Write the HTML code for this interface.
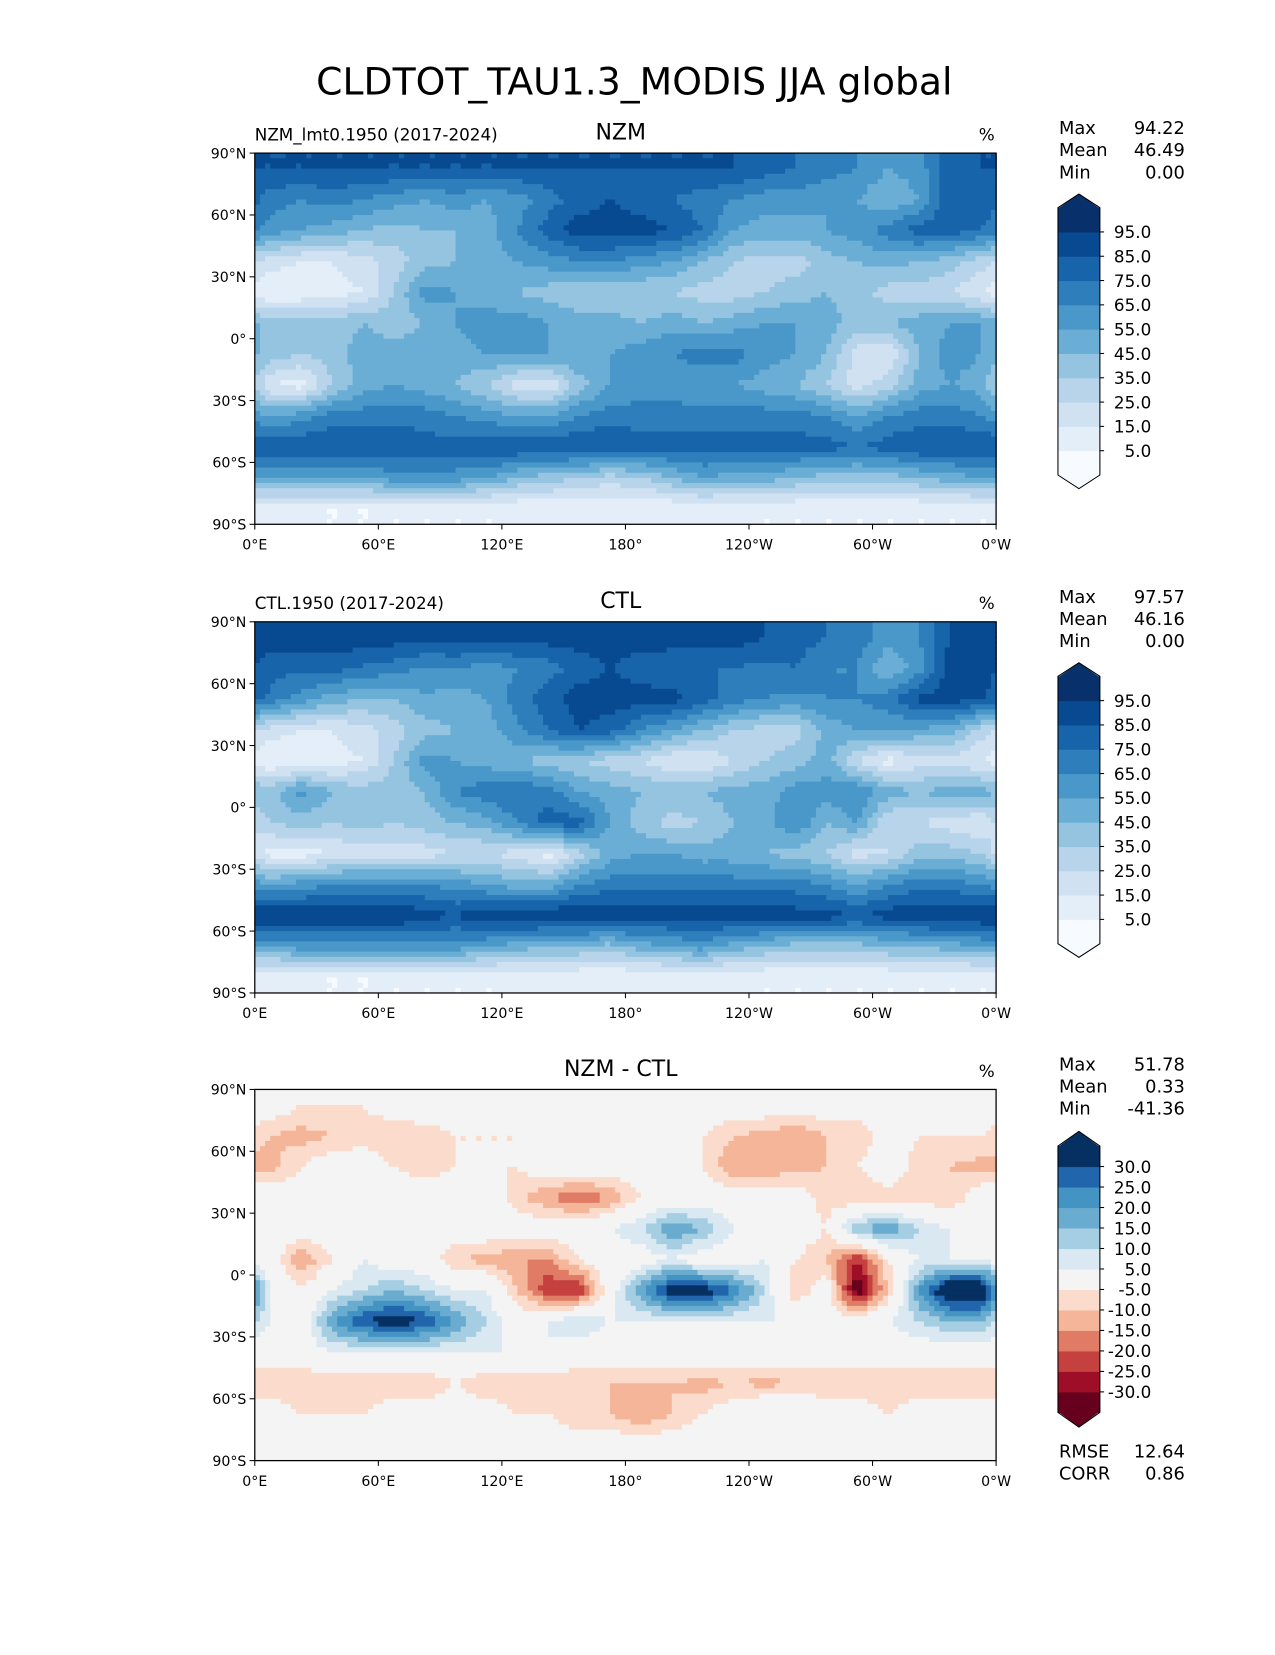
<!DOCTYPE html>
<html><head><meta charset="utf-8">
<style>
body{margin:0;background:#fff;}
svg text{font-family:"DejaVu Sans","Liberation Sans",sans-serif;}
</style></head>
<body>
<svg id="fig" width="1275" height="1650" viewBox="0 0 1216 1573.6" xmlns="http://www.w3.org/2000/svg">
<rect width="1216" height="1574" fill="#fff"/>
<text x="605" y="90" font-size="36" text-anchor="middle">CLDTOT_TAU1.3_MODIS JJA global</text>
</svg>
<script>
// ---- data (rows 90N->90S in 15° bands, columns 0E->360 in 15° bands) ----
const nzmValues = [
[85,85,85,85,85,85,85,85,85,85,85,85,85,85,85,85,80,75,70,65,55,60,80,85],
[70,65,70,65,60,55,60,55,60,70,80,85,80,75,70,65,60,60,55,55,45,55,85,85],
[60,55,50,45,40,45,45,50,65,80,90,90,90,85,75,55,50,50,55,60,70,80,80,75],
[20,15,15,20,30,40,45,50,55,60,65,65,60,55,45,35,30,30,40,45,50,45,40,30],
[5,5,10,15,35,60,55,50,45,40,35,35,35,35,30,30,35,40,45,40,30,30,25,15],
[40,45,40,45,40,45,55,60,60,55,50,50,45,50,45,50,55,55,50,40,45,50,55,55],
[40,35,40,50,50,50,50,55,55,55,55,55,60,65,70,70,60,55,45,20,15,45,60,55],
[15,10,35,50,55,50,45,35,20,15,40,55,60,60,55,55,50,45,35,20,30,50,55,50],
[55,60,70,70,70,70,65,60,55,55,65,70,70,70,70,70,70,70,65,55,65,70,70,65],
[85,85,85,85,85,80,80,85,85,85,85,85,80,80,80,80,80,80,80,75,80,85,85,85],
[55,55,55,55,60,60,60,55,45,40,35,30,35,45,55,50,50,45,40,40,40,45,50,55],
[5,5,5,5,5,5,5,5,5,5,5,5,5,5,5,5,5,5,5,5,5,5,5,5]];
const ctlValues = [
[90,92,92,92,90,90,90,90,90,90,90,90,90,92,90,90,85,80,75,70,60,65,85,90],
[80,77,80,73,70,63,65,60,65,70,80,85,80,75,75,75,72,75,65,65,45,60,90,90],
[72,60,50,45,45,53,50,55,70,80,90,90,90,90,80,70,65,62,65,65,70,88,90,87],
[20,15,15,20,30,40,45,50,63,75,85,80,65,55,45,35,30,30,48,55,58,53,50,30],
[5,5,10,15,35,60,55,50,45,40,35,30,25,15,15,25,35,40,50,25,10,20,20,15],
[40,60,45,40,40,45,65,72,75,70,55,50,45,45,45,50,50,60,60,65,50,45,50,50],
[35,40,35,40,35,40,45,50,65,80,80,55,40,30,35,45,50,65,45,55,25,25,20,15],
[10,10,15,20,20,20,25,25,20,10,30,50,55,55,50,50,45,40,35,20,25,40,40,35],
[55,60,65,65,65,65,60,55,50,50,65,70,70,70,70,70,70,70,65,55,65,70,70,65],
[95,95,95,95,95,90,85,95,95,95,95,95,90,90,92,90,92,90,90,85,90,95,95,95],
[55,60,60,60,60,60,60,55,50,45,45,40,50,55,60,50,45,40,40,40,45,45,50,55],
[5,5,5,5,5,5,5,5,5,5,5,5,5,5,5,5,5,5,5,5,5,5,5,5]];
const diffValues = [
[0,-5,-5,-5,0,0,0,0,0,0,0,0,0,-5,0,0,0,0,0,0,0,0,0,0],
[-10,-12,-10,-8,-10,-8,-5,-5,-5,0,0,0,0,0,-5,-10,-12,-15,-10,-10,0,-5,-5,-5],
[-12,-5,0,0,-5,-8,-5,-5,-5,0,0,0,0,-5,-5,-15,-15,-12,-10,-5,0,-8,-10,-12],
[0,0,0,0,0,0,0,0,-8,-15,-20,-15,-5,0,0,0,0,0,-8,-10,-8,-8,-10,0],
[0,0,0,0,0,0,0,0,0,0,0,5,10,20,15,5,0,0,-5,15,20,10,5,0],
[0,-15,-5,5,0,0,-10,-12,-15,-15,-5,0,0,5,0,0,5,-5,-10,-25,-5,5,5,5],
[5,-5,5,10,15,10,5,5,-10,-25,-25,0,20,35,35,25,10,-10,0,-35,-10,20,40,40],
[5,0,20,30,35,30,20,10,0,5,10,5,5,5,5,5,5,5,0,0,5,10,15,15],
[0,0,5,5,5,5,5,5,5,5,0,0,0,0,0,0,0,0,0,0,0,0,0,0],
[-10,-10,-10,-10,-10,-10,-5,-10,-10,-10,-10,-10,-10,-10,-12,-10,-12,-10,-10,-10,-10,-10,-10,-10],
[0,-5,-5,-5,0,0,0,0,-5,-5,-10,-10,-15,-10,-5,0,5,5,0,0,-5,0,0,0],
[0,0,0,0,0,0,0,0,0,0,0,0,0,0,0,0,0,0,0,0,0,0,0,0]];
const blueLevels = [5,15,25,35,45,55,65,75,85,95];
const diffLevels = [-30,-25,-20,-15,-10,-5,5,10,15,20,25,30];
const latTicks = ["90°N","60°N","30°N","0°","30°S","60°S","90°S"];
const lonTicks = ["0°E","60°E","120°E","180°","120°W","60°W","0°W"];
const blueColors = ['#f7fbff','#e3eef9','#d0e1f2','#b7d4ea','#94c4df','#6aaed6','#4a98c9','#2e7ebc','#1764ab','#084a91','#08306b'];
const diffColors = ['#67001f','#9e0e26','#c5413f','#e07c66','#f4b598','#fbdccc','#f4f4f4','#d9e8f1','#a6cee3','#6aacd0','#4393c3','#2166ac','#053061'];

const NS='http://www.w3.org/2000/svg';
const fig=document.getElementById('fig');
function mk(tag,attrs,parent){const e=document.createElementNS(NS,tag);for(const k in attrs)e.setAttribute(k,attrs[k]);(parent||fig).appendChild(e);return e;}
function txt(s,x,y,size,anchor,parent){const t=mk('text',{x:x,y:y,'font-size':size,'text-anchor':anchor||'start'},parent);t.textContent=s;return t;}
function levelIndex(v,levels){let i=0;while(i<levels.length&&v>=levels[i])i++;return i;}

const MX0=243,MX1=950,MW=707,MH=354;
function xScale(lon){return MX0+lon/360*MW;}
function yScale(lat,top){return top+(90-lat)/180*MH;}

function sample(grid,u,v){
  const nc=grid[0].length,nr=grid.length;
  let x=u-0.5,y=v-0.5;
  let x0=Math.floor(x),y0=Math.floor(y),fx=x-x0,fy=y-y0;
  const g=(r,c)=>grid[Math.max(0,Math.min(nr-1,r))][((c%nc)+nc)%nc];
  return g(y0,x0)*(1-fx)*(1-fy)+g(y0,x0+1)*fx*(1-fy)+g(y0+1,x0)*(1-fx)*fy+g(y0+1,x0+1)*fx*fy;
}

function panel(top,grid,levels,colors,opts){
  const g=mk('g',{});
  
  
  const S=6,nc=grid[0].length,nr=grid.length;
  const fw=nc*S,fh=nr*S;
  const dLon=360/fw,dLat=180/fh;
  for(let j=0;j<fh;j++){
    let runStart=0,runCol=null;
    for(let i=0;i<=fw;i++){
      let col=null;
      if(i<fw){const v=sample(grid,(i+0.5)/S,(j+0.5)/S);col=colors[levelIndex(v,levels)];}
      if(col!==runCol){
        if(runCol!==null){
          const r=mk('rect',{x:xScale(runStart*dLon).toFixed(2),y:yScale(90-j*dLat,top).toFixed(2),width:(xScale(i*dLon)-xScale(runStart*dLon)+0.6).toFixed(2),height:(MH/fh+0.6).toFixed(2),fill:runCol},g);
          
          
        }
        runStart=i;runCol=col;
      }
    }
  }
  const f=mk('rect',{x:MX0,y:top,width:MW,height:MH,fill:'none',stroke:'#000','stroke-width':1.2});
  
  
  latTicks.forEach((s,k)=>{const y=top+k*MH/6;mk('line',{x1:MX0-5,x2:MX0,y1:y,y2:y,stroke:'#000'});
    const t=txt(s,MX0-8,y+5,13.5,'end');});
  lonTicks.forEach((s,k)=>{const x=MX0+k*MW/6;mk('line',{x1:x,x2:x,y1:top+MH,y2:top+MH+5,stroke:'#000'});
    const t=txt(s,x,top+MH+24,13.5,'middle');});
  if(opts.left){const t=txt(opts.left,MX0,top-12,16);}
  const ct=txt(opts.title,592,top-13,21,'middle');
  const ut=txt('%',941,top-12,16,'middle');
  opts.stats.forEach((s,k)=>{const y=top-18+k*21;
    const a=txt(s[0],1010,y,17);
    const b=txt(s[1],1130,y,17,'end');});
  const cb=mk('g',{});
  
  
  const cx0=1009,cx1=1049,b0=opts.cb[0],b1=opts.cb[1],tip=opts.cb[2];
  const n=colors.length,h=(b1-b0)/n;
  mk('polygon',{points:`${cx0},${b0+1} ${(cx0+cx1)/2},${b0-tip} ${cx1},${b0+1}`,fill:colors[n-1],stroke:'none'},cb);
  mk('polygon',{points:`${cx0},${b1-1} ${(cx0+cx1)/2},${b1+tip} ${cx1},${b1-1}`,fill:colors[0],stroke:'none'},cb);
  for(let k=0;k<n;k++){mk('rect',{x:cx0,y:b1-(k+1)*h,width:cx1-cx0,height:h+0.5,fill:colors[k]},cb);}
  mk('polygon',{points:`${cx0},${b0} ${(cx0+cx1)/2},${b0-tip} ${cx1},${b0} ${cx1},${b1} ${(cx0+cx1)/2},${b1+tip} ${cx0},${b1}`,fill:'none',stroke:'#000','stroke-width':1},cb);
  opts.cbLabels.forEach((s,k)=>{const y=b0+(k+1)*h;mk('line',{x1:cx1,x2:cx1+4,y1:y,y2:y,stroke:'#000'},cb);
    const t=txt(s,1098,y+6,16,'end',cb);});
}

const blueLabels=blueLevels.slice().reverse().map(v=>v.toFixed(1));
panel(146,nzmValues,blueLevels,blueColors,{name:'nzm',left:'NZM_lmt0.1950 (2017-2024)',title:'NZM',
  stats:[['Max','94.22'],['Mean','46.49'],['Min','0.00']],cb:[198,453,13],cbLabels:blueLabels});
panel(593,ctlValues,blueLevels,blueColors,{name:'ctl',left:'CTL.1950 (2017-2024)',title:'CTL',
  stats:[['Max','97.57'],['Mean','46.16'],['Min','0.00']],cb:[645,900,13],cbLabels:blueLabels});
const diffLabels=diffLevels.slice().reverse().map(v=>v.toFixed(1));
panel(1039,diffValues,diffLevels,diffColors,{name:'diff',left:'',title:'NZM - CTL',
  stats:[['Max','51.78'],['Mean','0.33'],['Min','-41.36']],cb:[1093,1347,14],cbLabels:diffLabels});
[['RMSE','12.64',1390],['CORR','0.86',1411]].forEach(s=>{
  const a=txt(s[0],1010,s[2],17);
  const b=txt(s[1],1130,s[2],17,'end');});
</script>
</body></html>
